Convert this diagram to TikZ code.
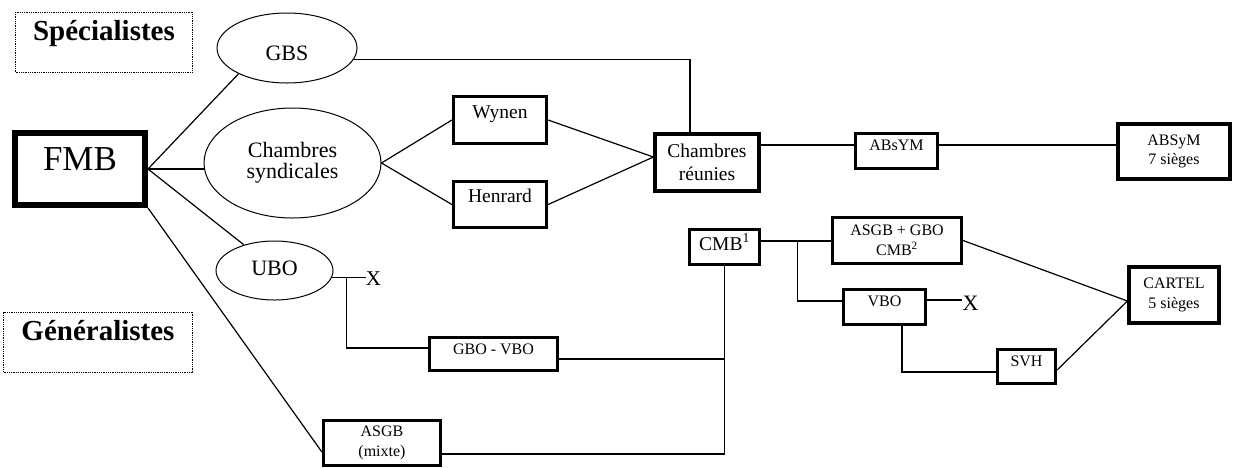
\documentclass[tikz,border=0pt]{standalone}
\usepackage{fontspec}
\setmainfont{Liberation Serif}
\usetikzlibrary{shapes.geometric}

\begin{document}
\begin{tikzpicture}[
    x=1pt, y=-1pt,
    box/.style={draw, line width=3.2pt, inner sep=0pt, align=center},
    bigtxt/.style={font=\fontsize{19.5}{23}\selectfont},
    smalltxt/.style={font=\fontsize{16}{19.5}\selectfont},
    oval/.style={draw, ellipse, line width=1pt, inner sep=0pt, align=center, font=\fontsize{22}{21}\selectfont},
    heading/.style={draw, densely dotted, line width=0.8pt, inner sep=0pt, font=\fontsize{29}{30}\selectfont\bfseries},
    cross/.style={inner sep=0pt, font=\fontsize{21}{21}\selectfont},
    link/.style={line width=1.2pt}
]
    \useasboundingbox (0,0) rectangle (1233,467);

    \node[heading, minimum width=177pt, text height=28.7pt, text depth=31.3pt] (spec) at (104,42) {Spécialistes};
    \node[heading, minimum width=189pt, text height=28pt, text depth=32pt] (gen) at (98,342) {Généralistes};

    \node[box, line width=6pt, minimum width=130pt, text height=37pt, text depth=35pt, font=\fontsize{35}{35}\selectfont] (fmb) at (80,169) {FMB};

    \node[oval, minimum width=140pt, minimum height=70pt, text height=26pt, text depth=2pt] (gbs) at (287,48) {GBS};
    \node[oval, minimum width=177pt, minimum height=110pt] (cs) at (292.5,163) {Chambres\\syndicales};
    \node[oval, minimum width=117pt, minimum height=59pt, text height=15pt, text depth=5pt] (ubo) at (274.5,270.5) {UBO};

    \node[box, bigtxt, minimum width=93pt, text height=21.5pt, text depth=25.5pt] (wyn) at (500,120) {Wynen};
    \node[box, bigtxt, minimum width=93pt, text height=20.5pt, text depth=25.5pt] (hen) at (500,204.5) {Henrard};
    \node[box, bigtxt, minimum width=104pt, minimum height=57pt] (cr) at (707,162.5) {Chambres\\réunies};
    \node[box, bigtxt, minimum width=70pt, text height=20.5pt, text depth=14.5pt] (cmb) at (724.5,247) {CMB\textsuperscript{1}};

    \node[box, smalltxt, minimum width=82pt, text height=17.2pt, text depth=17.8pt] (aby) at (896.5,151) {ABsYM};
    \node[box, smalltxt, minimum width=112pt, minimum height=55pt] (abs) at (1174,151.5) {ABSyM\\7 sièges};
    \node[box, smalltxt, minimum width=129pt, minimum height=46pt] (agc) at (897,240.5) {ASGB + GBO\\CMB\textsuperscript{2}};
    \node[box, smalltxt, minimum width=82pt, text height=17.2pt, text depth=17.8pt] (vbo) at (884.5,307) {VBO};
    \node[box, smalltxt, minimum width=90pt, minimum height=56pt] (cartel) at (1174,295) {CARTEL\\5 sièges};
    \node[box, smalltxt, minimum width=58pt, text height=16.5pt, text depth=17.5pt] (svh) at (1026.5,366.5) {SVH};
    \node[box, smalltxt, minimum width=128pt, text height=16.5pt, text depth=16.5pt] (gv) at (493.5,354) {GBO - VBO};
    \node[box, smalltxt, minimum width=117pt, minimum height=45pt] (asgb) at (382,443) {ASGB\\(mixte)};

    \node[cross] (xubo) at (373.5,279) {X};
    \node[cross, font=\fontsize{22}{22}\selectfont] (xvbo) at (970.5,303) {X};

    \draw[link] (fmb.east) -- (gbs.208);
    \draw[link] (fmb.east) -- (fmb.east -| cs.west);
    \draw[link] (fmb.east) -- (ubo.140);
    \draw[link] (fmb.south east) -- ([yshift=-9pt]asgb.west);

    \draw[link] (gbs.-10) -| ([xshift=-17pt]cr.north);
    \draw[link] (cs.east) -- (wyn.west);
    \draw[link] (cs.east) -- (hen.west);
    \draw[link] (wyn.east) -- ([yshift=5.5pt]cr.west);
    \draw[link] (hen.east) -- ([yshift=5.5pt]cr.west);
    \coordinate (crr) at ([yshift=17.5pt]cr.east);
    \draw[link] (crr) -- (crr -| aby.west);
    \draw[link] (crr -| aby.east) -- (crr -| abs.west);

    \coordinate (ubr) at (ubo.-7);
    \draw[link] (ubr) -- (ubr -| xubo.west);
    \path (ubr) ++(14.5,0) coordinate (ubj);
    \draw[link] (ubj) |- ([yshift=6pt]gv.west);
    \coordinate (gvr) at ([yshift=-5pt]gv.east);
    \draw[link] (gvr) -- (gvr -| cmb.south);
    \draw[link] (cmb.south) |- ([yshift=-11pt]asgb.east);

    \coordinate (cmbr) at ([yshift=6pt]cmb.east);
    \draw[link] (cmbr) -- (cmbr -| agc.west);
    \path (cmbr) ++(36.5,0) coordinate (cmbj);
    \draw[link] (cmbj) |- ([yshift=6pt]vbo.west);
    \coordinate (vbor) at ([yshift=7pt]vbo.east);
    \draw[link] (vbor) -- (vbor -| xvbo.west);
    \draw[link] ([xshift=17.5pt]vbo.south) |- ([yshift=-5.5pt]svh.west);
    \draw[link] (agc.east) -- ([yshift=-6pt]cartel.west);
    \draw[link] ([yshift=-3.5pt]svh.east) -- ([yshift=-6pt]cartel.west);
\end{tikzpicture}
\end{document}
